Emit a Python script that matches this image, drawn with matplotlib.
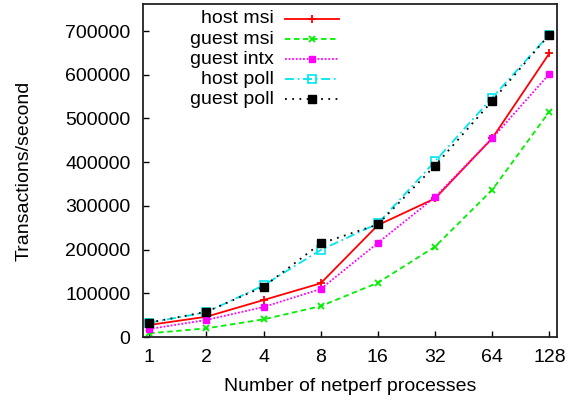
import matplotlib
matplotlib.use("Agg")
import matplotlib.pyplot as plt

# === data ===
procs = [1, 2, 4, 8, 16, 32, 64, 128]
tick_labels = ["1", "2", "4", "8", "16", "32", "64", "128"]

host_msi = [27500, 46400, 84600, 122900, 256000, 317000, 454600, 649000]
guest_msi = [8400, 19800, 40400, 70600, 124000, 206600, 336500, 515600]
guest_intx = [18300, 39000, 68600, 109800, 215300, 320000, 454600, 601800]
host_poll = [32800, 56500, 118300, 199000, 259800, 402000, 547500, 692000]
guest_poll = [32800, 57700, 115000, 214000, 257500, 392000, 540000, 692000]

plt.rcParams["font.family"] = ["Liberation Sans", "DejaVu Sans"]
plt.rcParams["font.size"] = 14

fig = plt.figure(figsize=(5.79, 4.0), dpi=100)
ax = fig.add_axes([0.247, 0.1575, 0.715, 0.8325])

series = [
    ("host msi", host_msi, dict(color="#ff0000", ls="-", marker="+", ms=6, mew=1.3)),
    ("guest msi", guest_msi, dict(color="#00f000", ls=(0, (3, 2)), marker="x", ms=5, mew=1.3)),
    ("guest intx", guest_intx, dict(color="#ff00ff", ls=(0, (1, 1)), marker="s", ms=4.5, mew=1)),
    ("host poll", host_poll, dict(color="#00e5ee", ls=(0, (5, 2, 1, 2)), marker="s", ms=5.5,
                                  mfc="none", mew=1.2)),
    ("guest poll", guest_poll, dict(color="black", ls=(0, (1, 3)), marker="s", ms=5.5, mew=1)),
]

for name, vals, st in series:
    ax.plot(procs, vals, lw=1.3, **st)

ax.set_xscale("log", base=2)
ax.set_xlim(0.927, 140.5)
ax.set_ylim(0, 762000)
ax.set_xticks(procs)
ax.set_xticklabels(tick_labels)
ax.minorticks_off()
ax.set_yticks(range(0, 700001, 100000))
ax.set_yticklabels([str(v) for v in range(0, 700001, 100000)])
ax.tick_params(direction="in", length=4, width=1, pad=9, top=False, right=False)

for sp in ax.spines.values():
    sp.set_linewidth(1.3)
    sp.set_color("#222222")

ax.set_xlabel("Number of netperf processes", labelpad=8)
ax.set_ylabel("Transactions/second")
ax.yaxis.set_label_coords(-0.266, 0.5)

# === legend (text right-aligned, sample to the right, like gnuplot) ===
rows = [0.955, 0.894, 0.834, 0.774, 0.714]
for (name, vals, st), yy in zip(series, rows):
    ax.text(0.316, yy, name, transform=ax.transAxes, ha="right", va="center")
    ax.plot([0.343, 0.473], [yy, yy], transform=ax.transAxes, lw=1.3,
            color=st["color"], ls=st["ls"], clip_on=False)
    mk = {k: v for k, v in st.items() if k not in ("ls",)}
    ax.plot([0.408], [yy], transform=ax.transAxes, ls="none", clip_on=False, **mk)

fig.savefig("out.png", dpi=100)
